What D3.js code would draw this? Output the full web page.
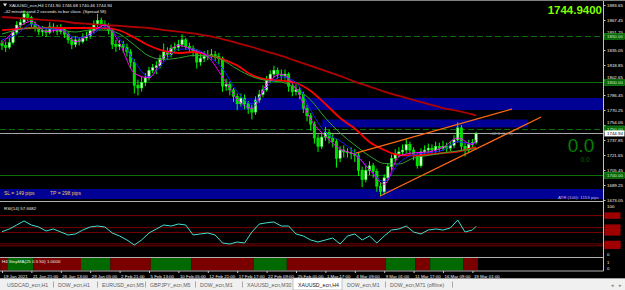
<!DOCTYPE html>
<html>
<head>
<meta charset="utf-8">
<script src="https://cdn.jsdelivr.net/npm/d3@7"></script>
<style>
html,body{margin:0;padding:0;background:#000;overflow:hidden}
svg{display:block;font-family:"Liberation Sans",Arial,sans-serif}
</style>
</head>
<body>
<div id="chart"></div>
<script>
(function(){

// ---- data (one candle = 2 H4 bars) ----
const firstOpen = 1842;
const closes = [1840,1838,1843,1854,1862,1865,1874,1870,1863,1859,1855,1856,1854,1860,1859,1855,1857,1852,1846,1841,
1846,1844,1848,1850,1856,1863,1867,1863,1861,1856,1841,1839,1841,1838,1833,1822,1797,1794,1800,1805,
1813,1816,1818,1826,1833,1830,1837,1838,1841,1846,1839,1837,1833,1822,1826,1828,1829,1830,1828,1826,
1796,1798,1792,1785,1777,1783,1777,1772,1768,1781,1787,1792,1803,1809,1813,1809,1807,1809,1796,1790,
1792,1787,1772,1764,1755,1740,1731,1741,1746,1740,1736,1718,1727,1725,1724,1723,1721,1705,1695,1705,
1710,1704,1688,1682,1697,1709,1718,1723,1725,1727,1733,1727,1721,1710,1725,1727,1729,1727,1731,1729,
1731,1729,1732,1738,1751,1731,1727,1733,1735,1744.94];
const highs = [1846,1844,1848,1857,1866,1870,1878,1877,1872,1866,1862,1861,1859,1865,1864,1862,1863,1860,1855,1849,
1850,1849,1853,1855,1860,1867,1874,1870,1867,1864,1858,1846,1846,1845,1842,1836,1825,1803,1806,1810,
1817,1820,1823,1830,1842,1838,1841,1843,1846,1852,1848,1843,1840,1836,1831,1834,1835,1836,1834,1832,
1828,1804,1801,1794,1788,1788,1787,1780,1776,1785,1792,1797,1807,1813,1818,1816,1814,1814,1811,1799,
1798,1795,1790,1776,1767,1758,1744,1746,1752,1749,1744,1739,1731,1732,1729,1730,1728,1724,1709,1710,
1715,1713,1707,1692,1701,1713,1722,1728,1730,1733,1739,1736,1730,1724,1729,1732,1734,1733,1736,1735,
1737,1735,1737,1743,1757,1754,1735,1738,1739,1746.68];
const lows = [1835,1833,1836,1841,1851,1858,1862,1866,1860,1855,1851,1850,1849,1852,1854,1851,1852,1848,1842,1836,
1838,1840,1842,1845,1847,1853,1860,1859,1857,1852,1836,1833,1835,1832,1828,1815,1788,1786,1790,1796,
1802,1810,1809,1815,1823,1825,1827,1832,1834,1838,1835,1832,1828,1815,1818,1822,1824,1825,1823,1820,
1790,1791,1786,1779,1770,1774,1771,1766,1760,1765,1778,1784,1790,1800,1805,1804,1802,1803,1790,1785,
1786,1782,1767,1758,1748,1734,1725,1728,1737,1734,1730,1708,1714,1719,1719,1717,1714,1699,1687,1692,
1700,1697,1682,1677,1679,1694,1705,1714,1719,1721,1723,1722,1716,1707,1708,1721,1723,1722,1724,1725,
1726,1724,1726,1729,1735,1726,1720,1724,1729,1733];

// moving averages, read every 4 candles (+ last candle)
const maSlow = [1870.7,1869.6,1868.5,1867.4,1866.4,1864.2,1863.1,1862.0,1861.0,1859.9,1858.8,1856.6,1855.0,1852.9,1850.2,1846.9,1842.6,
1838.3,1833.4,1828.6,1823.2,1817.8,1812.4,1807.0,1801.0,1795.6,1790.2,1785.4,1781.0,1776.7,1772.4,1769.2,1765.4,1764.3];
const maRed = [1856.6,1857.7,1858.8,1858.8,1858.8,1858.8,1858.8,1858.8,1856.1,1848.5,1839.9,1834.0,1831.8,1832.9,1829.6,1825.3,1818.3,
1808.0,1803.2,1802.1,1799.4,1790.8,1776.7,1761.6,1750.3,1735.7,1727.1,1721.6,1721.1,1722.2,1723.8,1725.4,1729.2,1730.3];
const maGreen = [1852.3,1856.6,1858.8,1858.8,1856.6,1854.5,1856.6,1856.6,1852.3,1840.4,1828.6,1824.8,1826.4,1829.1,1829.1,1824.2,1814.5,
1806.4,1802.1,1800.5,1793.5,1781.0,1761.6,1745.4,1732.4,1720.6,1712.5,1711.9,1718.4,1721.1,1723.8,1726.0,1728.1,1728.7];
const maBlue = [1846,1852,1863,1858,1857,1848,1851,1860,1847,1823,1806,1822,1836,1836,1829,1815,1790,
1777,1795,1806,1800,1770,1746,1737,1724,1706,1693,1713,1722,1724,1727,1736,1734,1736];
const maMagenta = [1842,1858,1866,1855,1857,1844,1853,1862,1842,1810,1805,1828,1840,1835,1828,1806,1782,
1772,1798,1809,1793,1760,1742,1728,1722,1706,1690,1720,1724,1725,1730,1740,1733,1738];

// RSI(14), read every 2 candles (+ last candle)
const rsiVals = [46.5,52.1,60.4,68.8,60.4,56.3,47.9,52.1,45.8,39.6,41.7,50,56.3,58.3,56.3,43.8,37.5,29.2,18.8,29.2,
43.8,52.1,60.4,58.3,62.5,60.4,39.6,41.7,43.8,39.6,22.9,20.8,25,22.9,45.8,62.5,65,66.7,58.3,58.3,
41.7,37.5,29.2,25,29.2,33.3,20.8,37.5,41.7,29.2,37.5,22.9,37.5,50,52.1,58.3,45.8,41.7,50,52.1,
50,54.2,70.8,45.8,50,57.67];
const rsiLevels = [80,55,45,21,17];

// StepMA trend runs: first candle of each run and its direction
const stepStarts = [0,2,9,22,30,41,52,69,78,105,113,117,126];
const stepDir = [0,1,0,1,0,1,0,1,0,1,0,1,0];

// price axis
const priceTicks = [1883.65,1867.45,1851.25,1835.05,1818.85,1802.65,1786.45,1770.25,1754.05,1737.85,1721.65,1705.45,1689.25,1673.05];
const levelPrices = [1850,1800,1750,1700];
const levelDashed = [true,false,true,false];
const lastPrice = 1744.94;

// supply / demand zones
const zoneTop = [1783.2,1760.0,1684.9];
const zoneBottom = [1770.2,1751.4,1674.1];
const zoneFrom = [-5,87.1,-5];
const zoneTo = [175,143.1,175];

// wedge trend lines [bar1, price1, bar2, price2]
const trendLines = [[96.3,1723.8,138.8,1771.3],[102.9,1677.4,146.7,1762.7]];

const dateLabels = ["19 Jan 2021","21 Jan 21:00","26 Jan 13:00","29 Jan 05:00","2 Feb 21:00","5 Feb 13:00","10 Feb 05:00",
"12 Feb 21:00","17 Feb 17:00","22 Feb 09:00","25 Feb 01:00","1 Mar 17:00","4 Mar 09:00","9 Mar 01:00","11 Mar 17:00",
"16 Mar 09:00","19 Mar 01:00"];

const tabs = ["USDCAD_ecn,H1","DOW_ecn,H1","EURUSD_ecn,M5","GBPJPY_ecn,M5","DOW_ecn,M1","XAUUSD_ecn,M30","XAUUSD_ecn,H4","DOW_ecn,M1","DOW_ecn,M71 (offline)"];
const tabLeft = [2,53,97,145,195,242,293,342,385,452];
const activeTab = 6;

// ---- layout ----
const width = 625;
const height = 290;
const axisX = 603.5;
const fs = 4.4;

const svg = d3.select("#chart")
.append("svg")
.attr("width",width)
.attr("height",height);

svg.append("rect").attr("width",width).attr("height",height).attr("fill","#000");

const x = d3.scaleLinear().domain([0,128]).range([2,472.4]);
const y = d3.scaleLinear().domain([1673.05,1883.65]).range([200,5]);
const yR = d3.scaleLinear().domain([0,100]).range([254,206]);

const defs = svg.append("defs");
defs.append("clipPath").attr("id","clipMain")
.append("rect").attr("x",0).attr("y",0).attr("width",axisX).attr("height",201);

const main = svg.append("g").attr("clip-path","url(#clipMain)");

// zones
main.selectAll("rect.zone")
.data(zoneTop)
.enter()
.append("rect")
.attr("class","zone")
.attr("x",(d,i)=>x(zoneFrom[i]))
.attr("y",d=>y(d))
.attr("width",(d,i)=>x(zoneTo[i])-x(zoneFrom[i]))
.attr("height",(d,i)=>y(zoneBottom[i])-y(d))
.attr("fill","#000094");

// round number levels
main.selectAll("line.level")
.data(levelPrices)
.enter()
.append("line")
.attr("x1",0).attr("x2",axisX)
.attr("y1",d=>Math.round(y(d))+0.5).attr("y2",d=>Math.round(y(d))+0.5)
.attr("stroke","#0b6e0b")
.attr("stroke-width",1)
.attr("stroke-dasharray",(d,i)=>levelDashed[i]?"6,3":null);

// bid line
main.append("line")
.attr("x1",0).attr("x2",axisX)
.attr("y1",Math.round(y(lastPrice))+0.5).attr("y2",Math.round(y(lastPrice))+0.5)
.attr("stroke","#a8a8a8").attr("stroke-width",1);

// candles
const bars = closes.map((c,i)=>({i:i,o:i?closes[i-1]:firstOpen,h:highs[i],l:lows[i],c:c}));

main.selectAll("line.wick")
.data(bars)
.enter()
.append("line")
.attr("x1",d=>x(d.i)).attr("x2",d=>x(d.i))
.attr("y1",d=>y(d.h)).attr("y2",d=>y(d.l))
.attr("stroke","#00ff00").attr("stroke-width",1);

main.selectAll("rect.body")
.data(bars)
.enter()
.append("rect")
.attr("x",d=>x(d.i)-1.2)
.attr("y",d=>y(Math.max(d.o,d.c)))
.attr("width",2.4)
.attr("height",d=>Math.max(0.8,Math.abs(y(d.o)-y(d.c))))
.attr("fill",d=>d.c>=d.o?"#d8ffd8":"#00e000")
.attr("stroke","#00ff00")
.attr("stroke-width",0.5);

// moving averages
const maBars = d3.range(0,129,4).concat([129]);
const maLine = d3.line().x((d,i)=>x(maBars[i])).y(d=>y(d)).curve(d3.curveMonotoneX);
const maDefs = [[maSlow,"#b00000",1.8],[maRed,"#ff0000",1.8],[maGreen,"#2fa52f",1],[maBlue,"#1c1cff",1],[maMagenta,"#ff00ff",1]];
maDefs.forEach(m=>{
    main.append("path")
    .attr("d",maLine(m[0]))
    .attr("fill","none")
    .attr("stroke",m[1])
    .attr("stroke-width",m[2]);
});

// wedge
main.selectAll("line.trend")
.data(trendLines)
.enter()
.append("line")
.attr("x1",d=>x(d[0])).attr("y1",d=>y(d[1]))
.attr("x2",d=>x(d[2])).attr("y2",d=>y(d[3]))
.attr("stroke","#ff6a10").attr("stroke-width",1.3);

// texts on main window
svg.append("path").attr("d","M3,3.5 L7,3.5 L5,6.5 Z").attr("fill","#e8e8e8");
svg.append("text").attr("x",9).attr("y",7).attr("font-size",fs).attr("fill","#e8e8e8")
.text("XAUUSD_ecn,H4  1741.90 1746.68 1740.46 1744.94");
svg.append("text").attr("x",4).attr("y",13.2).attr("font-size",fs).attr("fill","#e8e8e8")
.text("-42 minutes and 2 seconds to bar close. (Spread 58)");

svg.append("text").attr("x",602).attr("y",14).attr("text-anchor","end")
.attr("font-size",11.5).attr("font-weight","bold").attr("fill","#7fff00")
.text(d3.format(".4f")(lastPrice));

svg.append("text").attr("x",490).attr("y",134.5).attr("font-size",fs).attr("fill","#9a9a9a")
.text("-62.3 (0.53)");

svg.append("text").attr("x",581).attr("y",152).attr("text-anchor","middle")
.attr("font-size",19).attr("fill","#008000").text("0.0");
svg.append("text").attr("x",585).attr("y",162).attr("text-anchor","middle")
.attr("font-size",6.5).attr("fill","#006400").text("0.0");

svg.append("text").attr("x",4).attr("y",195.2).attr("font-size",5).attr("fill","#e0cc55")
.text("SL = 149 pips");
svg.append("text").attr("x",50).attr("y",195.2).attr("font-size",5).attr("fill","#e0cc55")
.text("TP = 298 pips");
svg.append("text").attr("x",599).attr("y",198.6).attr("text-anchor","end").attr("font-size",fs).attr("fill","#b8b8e8")
.text("ATR (100): 1153 pips");

// price axis
const pAxis = svg.append("g")
.attr("transform",`translate(${axisX},0)`)
.call(d3.axisRight(y).tickValues(priceTicks).tickSize(2).tickFormat(d3.format(".2f")));
pAxis.select(".domain").remove();
pAxis.selectAll("line").attr("stroke","#c8c8c8");
pAxis.selectAll("text").attr("x",3.5).attr("font-size",fs).attr("fill","#f0f0f0").attr("font-family","Liberation Sans, Arial")
.attr("dy",d=>levelPrices.some(p=>Math.abs(y(p)-y(d))<5)?"-0.45em":"0.32em");

const lv = svg.selectAll("g.lvlab")
.data(levelPrices)
.enter()
.append("g")
.attr("transform",d=>`translate(${axisX+1},${y(d)})`);
lv.append("rect").attr("x",0).attr("y",-2.8).attr("width",20).attr("height",6)
.attr("fill","#0a640a").attr("stroke","#22aa22").attr("stroke-width",0.5);
lv.append("text").attr("x",2.5).attr("y",2).attr("font-size",fs).attr("fill","#c8f0c8").text(d=>d3.format(".2f")(d));

const bid = svg.append("g").attr("transform",`translate(${axisX+1},${y(lastPrice)})`);
bid.append("rect").attr("x",0).attr("y",-3).attr("width",20).attr("height",6).attr("fill","#fff");
bid.append("text").attr("x",2.5).attr("y",1.6).attr("font-size",fs).attr("fill","#000").text(d3.format(".2f")(lastPrice));

// ---- RSI window ----
svg.append("line").attr("x1",0).attr("x2",axisX).attr("y1",201.5).attr("y2",201.5).attr("stroke","#b0b0b0");

svg.selectAll("line.rsilev")
.data(rsiLevels)
.enter()
.append("line")
.attr("x1",0).attr("x2",axisX)
.attr("y1",d=>yR(d)).attr("y2",d=>yR(d))
.attr("stroke","#8a0000").attr("stroke-width",0.9);

svg.selectAll("rect.rsibox")
.data(rsiLevels)
.enter()
.append("rect")
.attr("x",axisX+1).attr("y",d=>yR(d)-3.2).attr("width",16).attr("height",6.4)
.attr("fill","#a00000");

svg.append("text").attr("x",4).attr("y",209.5).attr("font-size",fs).attr("fill","#e8e8e8").text("RSI(14) 57.6682");

const rsiBars = d3.range(0,129,2).concat([129]);
svg.append("path")
.attr("d",d3.line().x((d,i)=>x(rsiBars[i])).y(d=>yR(d))(rsiVals))
.attr("fill","none").attr("stroke","#40e0d0").attr("stroke-width",1);

svg.append("text").attr("x",axisX+3.5).attr("y",207.5).attr("font-size",fs).attr("fill","#f0f0f0").text("100");
svg.append("text").attr("x",axisX+3.5).attr("y",255.5).attr("font-size",fs).attr("fill","#f0f0f0").text("0");

// ---- StepMA window ----
svg.append("line").attr("x1",0).attr("x2",axisX).attr("y1",257.5).attr("y2",257.5).attr("stroke","#b0b0b0");
svg.selectAll("rect.step")
.data(stepStarts)
.enter()
.append("rect")
.attr("x",(d,i)=>Math.max(0,x(d-0.5)))
.attr("y",258)
.attr("width",(d,i)=>{
    const e = i<stepStarts.length-1?stepStarts[i+1]:130;
    return x(e-0.5)-Math.max(0,x(d-0.5));
})
.attr("height",12.5)
.attr("fill",(d,i)=>stepDir[i]?"#006a00":"#7a0000");
svg.append("text").attr("x",2).attr("y",262.8).attr("font-size",fs).attr("fill","#f0f0f0").text("H4 StepMA(25 0.5 50) 1.0000");
svg.append("text").attr("x",axisX+3.5).attr("y",263.5).attr("font-size",fs).attr("fill","#f0f0f0").text("1");
svg.append("text").attr("x",axisX+3.5).attr("y",269.5).attr("font-size",fs).attr("fill","#f0f0f0").text("0");
svg.append("line").attr("x1",0).attr("x2",axisX).attr("y1",271).attr("y2",271).attr("stroke","#b0b0b0");

svg.append("line").attr("x1",axisX).attr("x2",axisX).attr("y1",0).attr("y2",271).attr("stroke","#c0c0c0");
svg.append("line").attr("x1",0).attr("x2",width).attr("y1",0.5).attr("y2",0.5).attr("stroke","#808080");

// time axis
const tAxis = svg.append("g")
.attr("transform","translate(0,271)")
.call(d3.axisBottom(x).tickValues(d3.range(0,129,8)).tickSize(2).tickFormat((d,i)=>dateLabels[i]));
tAxis.select(".domain").remove();
tAxis.selectAll("line").attr("stroke","#c8c8c8");
tAxis.selectAll("text").attr("text-anchor","start").attr("x",1).attr("y",3.6)
.attr("font-size",fs).attr("fill","#f0f0f0").attr("font-family","Liberation Sans, Arial");

// ---- tab bar ----
const tabY = 278;
svg.append("rect").attr("x",0).attr("y",tabY).attr("width",width).attr("height",height-tabY).attr("fill","#f0f0f0");
svg.append("line").attr("x1",0).attr("x2",width).attr("y1",tabY+0.5).attr("y2",tabY+0.5).attr("stroke","#a0a0a0");
tabs.forEach((t,i)=>{
    const l = tabLeft[i], r = tabLeft[i+1];
    if(i===activeTab){
        svg.append("rect").attr("x",l).attr("y",tabY).attr("width",r-l).attr("height",height-tabY)
        .attr("fill","#fff").attr("stroke","#a0a0a0").attr("stroke-width",0.6);
    }
    svg.append("text").attr("x",l+5).attr("y",tabY+8.8).attr("font-size",5.2)
    .attr("fill",i===activeTab?"#202020":"#606060").text(t);
    if(i!==activeTab-1 && i!==activeTab){
        svg.append("line").attr("x1",r+0.5).attr("x2",r+0.5).attr("y1",tabY+3.5).attr("y2",tabY+9.5).attr("stroke","#a8a8a8");
    }
});
svg.append("text").attr("x",611).attr("y",tabY+9).attr("font-size",4.5).attr("fill","#808080").text("◂");
svg.append("text").attr("x",619).attr("y",tabY+9).attr("font-size",4.5).attr("fill","#808080").text("▸");

})();
</script>
</body>
</html>
